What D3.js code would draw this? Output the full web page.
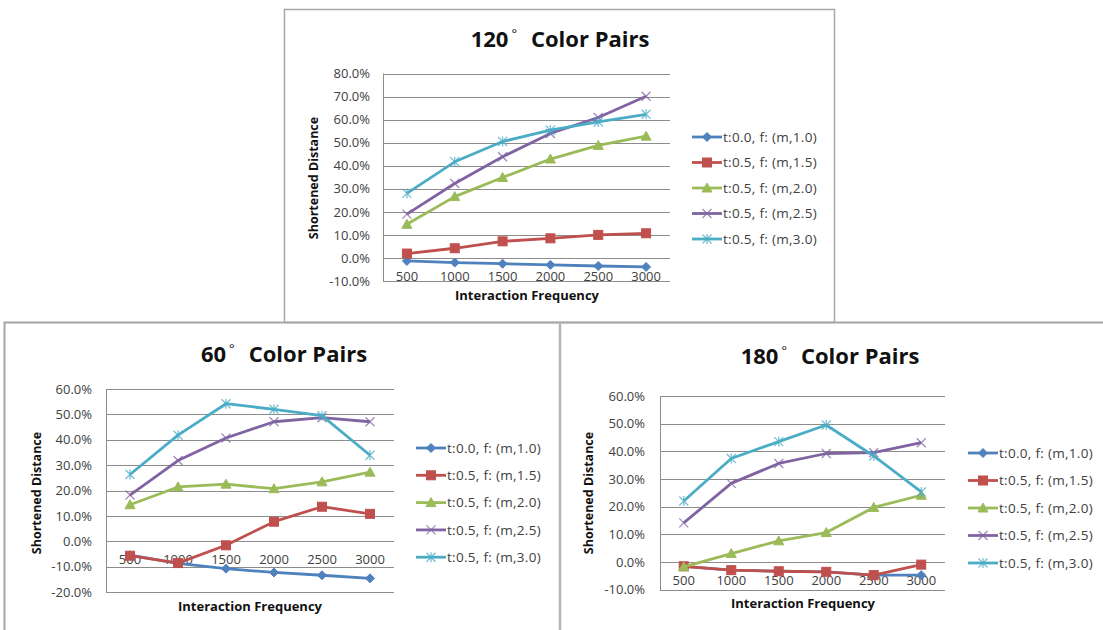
<!DOCTYPE html>
<html>
<head>
<meta charset="utf-8">
<script src="https://cdn.jsdelivr.net/npm/d3@7"></script>
<style>
  html, body { margin: 0; padding: 0; background: #fff; }
  svg { display: block; }
  text { font-family: "Open Sans", "Noto Sans", sans-serif; }
</style>
</head>
<body>
<svg id="chart" width="1103" height="630"></svg>
<script>
// Interaction frequencies on the category axis
const categories = [500, 1000, 1500, 2000, 2500, 3000];

// Series labels (same five series in each panel)
const seriesNames = [
  "t:0.0, f: (m,1.0)",
  "t:0.5, f: (m,1.5)",
  "t:0.5, f: (m,2.0)",
  "t:0.5, f: (m,2.5)",
  "t:0.5, f: (m,3.0)"
];

// Shortened distance (%) — 120° color pairs
const s120_m10 = [-1.3, -2.0, -2.5, -3.0, -3.5, -3.9];
const s120_m15 = [1.9, 4.2, 7.2, 8.5, 10.0, 10.7];
const s120_m20 = [14.6, 26.6, 34.9, 42.9, 48.8, 52.8];
const s120_m25 = [19.0, 32.3, 43.9, 54.0, 60.9, 70.1];
const s120_m30 = [28.0, 41.7, 50.5, 55.4, 59.0, 62.3];

// Shortened distance (%) — 60° color pairs
const s60_m10 = [-5.5, -8.7, -10.8, -12.3, -13.4, -14.6];
const s60_m15 = [-5.7, -8.6, -1.6, 7.7, 13.6, 10.8];
const s60_m20 = [14.4, 21.4, 22.5, 20.7, 23.4, 27.2];
const s60_m25 = [18.2, 31.8, 40.7, 47.1, 48.7, 47.1];
const s60_m30 = [26.3, 41.8, 54.2, 52.0, 49.5, 33.9];

// Shortened distance (%) — 180° color pairs
const s180_m10 = [-1.6, -3.0, -3.4, -3.6, -4.8, -4.8];
const s180_m15 = [-1.6, -3.0, -3.4, -3.6, -4.8, -1.0];
const s180_m20 = [-1.8, 3.0, 7.6, 10.6, 19.7, 24.1];
const s180_m25 = [14.1, 28.4, 35.6, 39.2, 39.5, 43.1];
const s180_m30 = [22.0, 37.4, 43.5, 49.5, 38.3, 25.3];

// Value-axis ticks per panel
const ticks120 = [-10, 0, 10, 20, 30, 40, 50, 60, 70, 80];
const ticks60 = [-20, -10, 0, 10, 20, 30, 40, 50, 60];
const ticks180 = [-10, 0, 10, 20, 30, 40, 50, 60];

const seriesColors = ["#4F81BD", "#C0504D", "#9BBB59", "#8064A2", "#4BACC6"];
const markerKinds = ["diamond", "square", "triangle", "cross", "star"];

const svg = d3.select("#chart");

// Panel frames
const frame = svg.append("g").attr("fill", "none").attr("stroke", "#a6a6a6");
frame.append("rect").attr("x", 284.5).attr("y", 9.5).attr("width", 550).attr("height", 313).attr("stroke-width", 1.5);
frame.append("path").attr("d", "M4.5,640 V322.5 H1110").attr("stroke-width", 2);
frame.append("path").attr("d", "M560,322.5 V640").attr("stroke-width", 2.5).attr("stroke", "#b4b4b4");

function drawMarker(g, kind, color, cx, cy) {
  if (kind === "diamond") {
    g.append("path").attr("d", `M${cx},${cy-4.5} L${cx+4.5},${cy} L${cx},${cy+4.5} L${cx-4.5},${cy} Z`)
      .attr("fill", color).attr("stroke", color);
  } else if (kind === "square") {
    g.append("rect").attr("x", cx - 4.5).attr("y", cy - 4.5).attr("width", 9).attr("height", 9)
      .attr("fill", color).attr("stroke", color).attr("stroke-width", 1);
  } else if (kind === "triangle") {
    g.append("path").attr("d", `M${cx},${cy-5} L${cx+5},${cy+4} L${cx-5},${cy+4} Z`)
      .attr("fill", color).attr("stroke", color);
  } else if (kind === "cross") {
    g.append("path").attr("d", `M${cx-4.5},${cy-4.5} L${cx+4.5},${cy+4.5} M${cx-4.5},${cy+4.5} L${cx+4.5},${cy-4.5}`)
      .attr("stroke", color).attr("stroke-width", 1.3).attr("opacity", 0.75);
  } else if (kind === "star") {
    g.append("path").attr("d", `M${cx-4.5},${cy-4.5} L${cx+4.5},${cy+4.5} M${cx-4.5},${cy+4.5} L${cx+4.5},${cy-4.5} M${cx},${cy-5} L${cx},${cy+5}`)
      .attr("stroke", color).attr("stroke-width", 1.3).attr("opacity", 0.75);
  }
}

function drawPanel(cfg) {
  const g = svg.append("g");
  const x = d3.scaleBand().domain(categories).range([cfg.left, cfg.right]);
  const y = d3.scaleLinear().domain([cfg.ticks[0], cfg.ticks[cfg.ticks.length - 1]]).range([cfg.bottom, cfg.top]);
  const cx = c => x(c) + x.bandwidth() / 2;

  // Title
  const t = g.append("text").attr("x", cfg.titleX).attr("y", cfg.titleY)
    .attr("text-anchor", "middle").attr("font-size", 22).attr("font-weight", "bold").attr("fill", "#111");
  t.append("tspan").text(cfg.angle);
  t.append("tspan").attr("dy", -9).attr("dx", 3).attr("font-size", 13).attr("font-weight", "normal").text("°");
  t.append("tspan").attr("dy", 9).attr("dx", 14).text("Color Pairs");

  // Gridlines
  g.append("g").selectAll("line").data(cfg.ticks).join("line")
    .attr("x1", cfg.left).attr("x2", cfg.right)
    .attr("y1", d => Math.round(y(d)) + 0.5).attr("y2", d => Math.round(y(d)) + 0.5)
    .attr("stroke", "#8c8c8c").attr("stroke-width", 1);
  // Value axis line
  g.append("line").attr("x1", cfg.left + 0.5).attr("x2", cfg.left + 0.5)
    .attr("y1", cfg.top).attr("y2", cfg.bottom + 0.5).attr("stroke", "#8c8c8c");

  // Value axis labels
  const yAxis = d3.axisLeft(y).tickValues(cfg.ticks).tickSize(0).tickPadding(cfg.pad)
    .tickFormat(d => d.toFixed(1) + "%");
  const ya = g.append("g").attr("transform", `translate(${cfg.left},0)`).call(yAxis);
  ya.select(".domain").remove();
  ya.selectAll("text").attr("font-size", 13).attr("fill", "#404040")
    .attr("font-family", "'Open Sans', sans-serif");

  // Category labels (placed below the zero line)
  const xAxis = d3.axisBottom(x).tickSize(0).tickPadding(14);
  const xa = g.append("g").attr("transform", `translate(0,${y(0)})`).call(xAxis);
  xa.select(".domain").remove();
  xa.selectAll("text").attr("font-size", 13).attr("fill", "#404040")
    .attr("font-family", "'Open Sans', sans-serif");

  // Axis titles
  g.append("text").attr("transform", `translate(${cfg.yTitleX},${cfg.yTitleY}) rotate(-90)`)
    .attr("text-anchor", "middle").attr("font-size", 12.5).attr("font-weight", "bold").attr("fill", "#111")
    .text("Shortened Distance");
  g.append("text").attr("x", cfg.xTitleX).attr("y", cfg.xTitleY)
    .attr("text-anchor", "middle").attr("font-size", 13).attr("font-weight", "bold").attr("fill", "#111")
    .text("Interaction Frequency");

  // Series lines and markers
  const line = d3.line().x((d, i) => cx(categories[i])).y(d => y(d));
  cfg.series.forEach((vals, si) => {
    const sg = g.append("g");
    sg.append("path").attr("d", line(vals)).attr("fill", "none")
      .attr("stroke", seriesColors[si]).attr("stroke-width", 2.8).attr("stroke-linejoin", "round");
    vals.forEach((v, i) => drawMarker(sg, markerKinds[si], seriesColors[si], cx(categories[i]), y(v)));
  });

  // Legend
  const lg = g.append("g");
  seriesNames.forEach((name, si) => {
    const ly = cfg.legY + si * cfg.legStep;
    lg.append("line").attr("x1", cfg.legX).attr("x2", cfg.legX + 30).attr("y1", ly).attr("y2", ly)
      .attr("stroke", seriesColors[si]).attr("stroke-width", 2.8);
    drawMarker(lg, markerKinds[si], seriesColors[si], cfg.legX + 15, ly);
    lg.append("text").attr("x", cfg.legX + 31).attr("y", ly).attr("dy", "0.35em")
      .attr("font-size", 13.5).attr("letter-spacing", 0.3).attr("fill", "#404040").text(name);
  });
}

drawPanel({
  angle: "120", titleX: 560, titleY: 47,
  left: 383, right: 670, top: 73.5, bottom: 281,
  ticks: ticks120, pad: 13,
  series: [s120_m10, s120_m15, s120_m20, s120_m25, s120_m30],
  yTitleX: 318, yTitleY: 178, xTitleX: 527, xTitleY: 300,
  legX: 692, legY: 137, legStep: 25.5
});

drawPanel({
  angle: "60", titleX: 284, titleY: 362,
  left: 106, right: 394, top: 389, bottom: 592,
  ticks: ticks60, pad: 14,
  series: [s60_m10, s60_m15, s60_m20, s60_m25, s60_m30],
  yTitleX: 41, yTitleY: 493, xTitleX: 250, xTitleY: 611,
  legX: 416, legY: 448, legStep: 27.3
});

drawPanel({
  angle: "180", titleX: 830, titleY: 364,
  left: 660, right: 945, top: 396, bottom: 589.5,
  ticks: ticks180, pad: 15,
  series: [s180_m10, s180_m15, s180_m20, s180_m25, s180_m30],
  yTitleX: 593, yTitleY: 493, xTitleX: 803, xTitleY: 608,
  legX: 968, legY: 453, legStep: 27.5
});
</script>
</body>
</html>
